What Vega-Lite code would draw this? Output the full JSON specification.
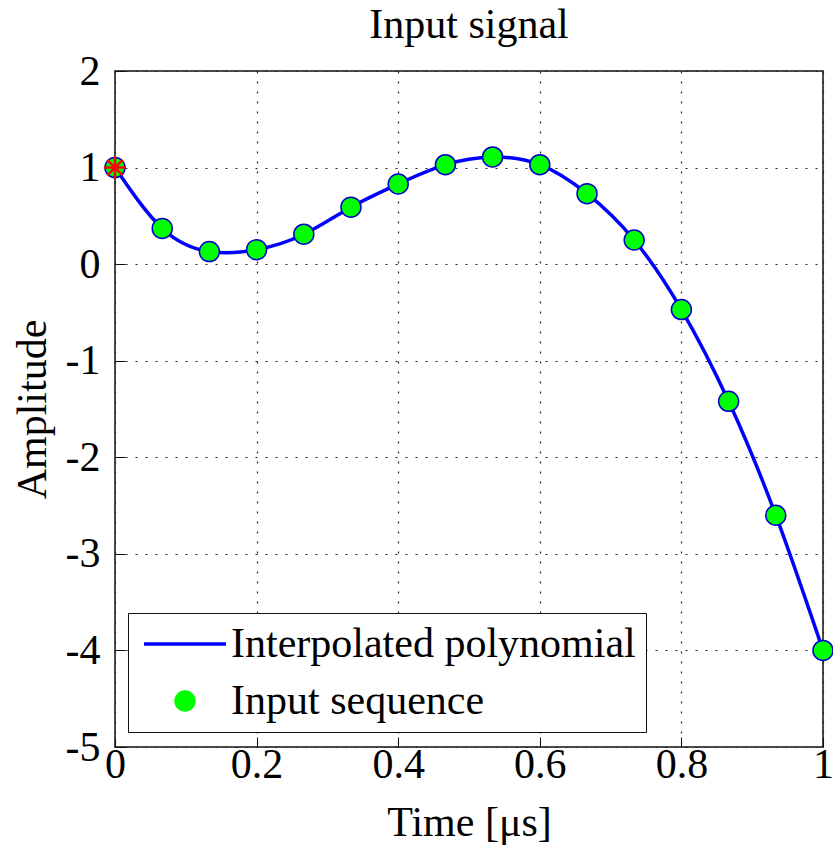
{
  "$schema": "https://vega.github.io/schema/vega-lite/v6.json",
  "width": 708,
  "height": 676,
  "autosize": {"type": "none"},
  "padding": {"left": 115, "top": 71, "right": 10, "bottom": 101},
  "background": "white",
  "title": {
    "text": "Input signal",
    "font": "Liberation Serif",
    "fontSize": 42,
    "fontWeight": "normal",
    "color": "black",
    "frame": "group",
    "anchor": "middle",
    "baseline": "alphabetic",
    "offset": -30
  },
  "data": {
    "values": [
      {"t": 0, "amp": 1.0},
      {"t": 0.0667, "amp": 0.37},
      {"t": 0.1333, "amp": 0.13},
      {"t": 0.2, "amp": 0.15},
      {"t": 0.2667, "amp": 0.31},
      {"t": 0.3333, "amp": 0.59},
      {"t": 0.4, "amp": 0.83},
      {"t": 0.4667, "amp": 1.03},
      {"t": 0.5333, "amp": 1.11},
      {"t": 0.6, "amp": 1.03},
      {"t": 0.6667, "amp": 0.73},
      {"t": 0.7333, "amp": 0.25},
      {"t": 0.8, "amp": -0.47},
      {"t": 0.8667, "amp": -1.42},
      {"t": 0.9333, "amp": -2.6},
      {"t": 1, "amp": -4.0}
    ]
  },
  "encoding": {
    "x": {
      "field": "t",
      "type": "quantitative",
      "scale": {"domain": [0, 1], "nice": false, "zero": false},
      "axis": {
        "title": "Time [μs]",
        "values": [0, 0.2, 0.4, 0.6, 0.8, 1],
        "labelExpr": "datum.value + ''",
        "labelBaseline": "alphabetic",
        "labelPadding": 40,
        "titleX": 354,
        "titleY": 88,
        "titleBaseline": "alphabetic"
      }
    },
    "y": {
      "field": "amp",
      "type": "quantitative",
      "scale": {"domain": [-5, 2], "nice": false, "zero": false},
      "axis": {
        "title": "Amplitude",
        "values": [-5, -4, -3, -2, -1, 0, 1, 2],
        "labelExpr": "datum.value + ''",
        "labelAlign": "right",
        "labelBaseline": "middle",
        "labelPadding": 25,
        "titleAngle": -90,
        "titleX": -70,
        "titleY": 338,
        "titleBaseline": "alphabetic"
      }
    }
  },
  "layer": [
    {
      "mark": {"type": "line", "interpolate": "natural", "strokeWidth": 3.5},
      "encoding": {
        "color": {
          "datum": "Interpolated polynomial",
          "scale": {
            "domain": ["Interpolated polynomial", "Input sequence"],
            "range": ["#0000ff", "#00ff00"]
          },
          "legend": {
            "title": null,
            "orient": "none",
            "legendX": 13,
            "legendY": 542,
            "symbolOffset": 26,
            "labelOffset": 25,
            "symbolStrokeColor": "#1515b0",
            "encode": {
              "symbols": {
                "update": {
                  "shape": {"signal": "datum.value === 'Input sequence' ? 'circle' : 'M-4.1,0L4.1,0'"},
                  "size": {"signal": "datum.value === 'Input sequence' ? 400 : 400"},
                  "fill": {"signal": "datum.value === 'Input sequence' ? '#00ff00' : 'transparent'"},
                  "stroke": {"signal": "datum.value === 'Input sequence' ? '#0000cc' : '#1c1ca0'"},
                  "strokeWidth": {"signal": "datum.value === 'Input sequence' ? 1.5 : 3.5"},
                  "opacity": {"value": 1},
                  "fillOpacity": {"value": 1},
                  "strokeOpacity": {"value": 1}
                }
              }
            }
          }
        }
      }
    },
    {
      "mark": {"type": "point", "filled": true, "size": 400, "stroke": "#0000cc", "strokeWidth": 1.5, "opacity": 1},
      "encoding": {
        "color": {"datum": "Input sequence"}
      }
    },
    {
      "transform": [{"filter": "datum.t === 0"}],
      "mark": {
        "type": "point",
        "shape": "M-1,0L1,0M0,-1L0,1M-0.7,-0.7L0.7,0.7M-0.7,0.7L0.7,-0.7",
        "filled": false,
        "stroke": "#ff0000",
        "strokeWidth": 2.5,
        "size": 484,
        "opacity": 1
      }
    }
  ],
  "config": {
    "view": {"stroke": "#111", "strokeWidth": 1.5},
    "axis": {
      "domain": false,
      "grid": true,
      "gridDash": [2, 8],
      "gridColor": "#222",
      "gridWidth": 1.2,
      "gridOpacity": 1,
      "ticks": true,
      "tickSize": -10,
      "tickColor": "#111",
      "tickWidth": 1,
      "labelFont": "Liberation Serif",
      "labelFontSize": 42,
      "labelColor": "black",
      "labelFlush": false,
      "labelOverlap": false,
      "labelBound": false,
      "titleFont": "Liberation Serif",
      "titleFontSize": 42,
      "titleFontWeight": "normal",
      "titleColor": "black"
    },
    "legend": {
      "strokeColor": "#111",
      "fillColor": "white",
      "padding": 10,
      "labelFont": "Liberation Serif",
      "labelFontSize": 42,
      "labelColor": "black",
      "labelLimit": 700,
      "symbolSize": 400,
      "rowPadding": 15,
      "symbolOpacity": 1
    }
  }
}
